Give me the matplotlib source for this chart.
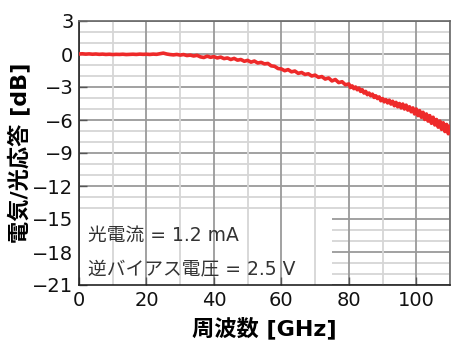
import numpy as np
import matplotlib
matplotlib.use("Agg")
import matplotlib.pyplot as plt
from matplotlib.patches import Rectangle
from matplotlib.ticker import MultipleLocator

plt.rcParams['font.family'] = ['DejaVu Sans', 'Noto Sans CJK JP']

# Sweep frequency [GHz]: 1 GHz steps to 80 GHz, then 0.5 GHz steps to 110 GHz
freq_low = np.arange(0, 81, 1.0)
freq_high = np.arange(80.5, 110.01, 0.5)

# Measured E/O response [dB]
resp_low = [
    0.00, 0.02, -0.01, 0.01, -0.02, 0.00, -0.03, -0.01, -0.04, -0.02,
    -0.05, -0.03, -0.04, -0.02, -0.05, -0.03, -0.02, -0.04, -0.01, -0.03,
    -0.02, -0.04, -0.01, -0.03, 0.02, 0.08, 0.00, -0.05, -0.08, -0.04,
    -0.10, -0.05, -0.14, -0.10, -0.18, -0.12, -0.26, -0.32, -0.20, -0.30,
    -0.24, -0.36, -0.28, -0.42, -0.36, -0.50, -0.40, -0.56, -0.50, -0.66,
    -0.58, -0.74, -0.64, -0.82, -0.76, -0.90, -0.86, -1.08, -1.12, -1.32,
    -1.36, -1.52, -1.42, -1.62, -1.55, -1.76, -1.68, -1.86, -1.80, -2.00,
    -1.92, -2.12, -2.05, -2.28, -2.18, -2.45, -2.32, -2.60, -2.52, -2.80,
    -2.72,
]
resp_high = [
    -3.05, -2.90, -3.15, -3.00, -3.25, -3.10, -3.40, -3.25, -3.55, -3.40,
    -3.70, -3.55, -3.80, -3.65, -3.95, -3.80, -4.05, -3.90, -4.25, -4.05,
    -4.35, -4.15, -4.45, -4.20, -4.55, -4.30, -4.70, -4.40, -4.80, -4.50,
    -4.90, -4.55, -5.00, -4.65, -5.10, -4.80, -5.25, -4.90, -5.45, -5.00,
    -5.60, -5.15, -5.75, -5.30, -5.95, -5.45, -6.10, -5.60, -6.30, -5.75,
    -6.45, -5.95, -6.65, -6.10, -6.85, -6.25, -7.05, -6.40, -7.25, -6.60,
]

freq = np.concatenate([freq_low, freq_high])
resp = np.array(resp_low + resp_high)

x_ticks = [0, 20, 40, 60, 80, 100]
y_ticks = [3, 0, -3, -6, -9, -12, -15, -18, -21]

note_current = "光電流 = 1.2 mA"
note_bias = "逆バイアス電圧 = 2.5 V"

fig = plt.figure(figsize=(4.52, 3.40), dpi=100)
ax = fig.add_axes([79 / 452, 55 / 340, 371 / 452, 264 / 340])

ax.set_xlim(0, 110)
ax.set_ylim(-21, 3)
ax.set_xticks(x_ticks)
ax.set_yticks(y_ticks)
ax.xaxis.set_minor_locator(MultipleLocator(10))
ax.yaxis.set_minor_locator(MultipleLocator(1))

ax.grid(which='major', color='#9a9a9a', linewidth=1.3)
ax.grid(which='minor', color='#d6d6d6', linewidth=1.3)
# vertical grid stays above the label panel, horizontal grid below it
ax.yaxis.set_zorder(0.5)
ax.xaxis.set_zorder(0.8)

ax.add_patch(Rectangle((0, -21), 75, 6.2, facecolor='white',
                       edgecolor='none', zorder=0.6))

ax.plot(freq, resp, color='#ee2a2a', linewidth=2.6, zorder=3)

ax.tick_params(which='major', direction='in', length=6, width=1,
               color='#555555', labelsize=14, pad=4, labelcolor='#111111')
ax.tick_params(which='minor', length=0)

for side in ['left', 'bottom']:
    ax.spines[side].set_color('#222222')
    ax.spines[side].set_linewidth(1.2)
for side in ['top', 'right']:
    ax.spines[side].set_color('#666666')
    ax.spines[side].set_linewidth(1.2)

ax.text(2.7, -16.5, note_current, fontsize=13.5, color='#333333',
        va='center', ha='left', zorder=4)
ax.text(2.7, -19.5, note_bias, fontsize=13.5, color='#333333',
        va='center', ha='left', zorder=4)

ax.set_xlabel("周波数 [GHz]", fontsize=16, fontweight='bold', labelpad=5)
ax.set_ylabel("電気/光応答 [dB]", fontsize=16, fontweight='bold', labelpad=1)

fig.savefig("out.png", dpi=100)
